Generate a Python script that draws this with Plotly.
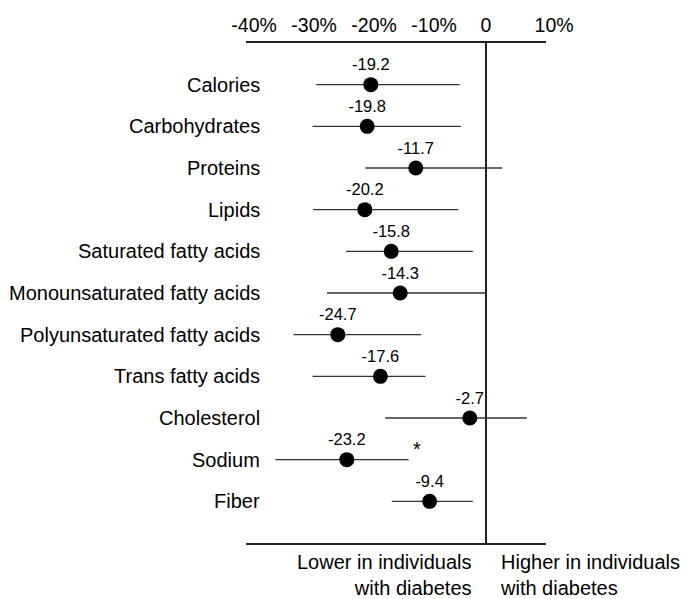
import plotly.graph_objects as go

# ---- data ----
nutrients = ["Calories", "Carbohydrates", "Proteins", "Lipids",
             "Saturated fatty acids", "Monounsaturated fatty acids",
             "Polyunsaturated fatty acids", "Trans fatty acids",
             "Cholesterol", "Sodium", "Fiber"]
estimate = [-19.2, -19.8, -11.7, -20.2, -15.8, -14.3, -24.7, -17.6, -2.7, -23.2, -9.4]
ci_low = [-28.3, -28.9, -20.1, -28.8, -23.3, -26.5, -32.1, -28.9, -16.8, -35.1, -15.7]
ci_high = [-4.4, -4.2, 2.7, -4.6, -2.2, 0.0, -10.8, -10.1, 6.8, -12.9, -2.2]
significant = ["Sodium"]
tick_vals = [-40, -30, -20, -10, 0, 10]
tick_labels = ["-40%", "-30%", "-20%", "-10%", "0", "10%"]
bottom_left_label = "Lower in individuals<br>with diabetes"
bottom_right_label = "Higher in individuals<br>with diabetes"

FONT = "Liberation Sans, Arial, Helvetica, sans-serif"
nb = "\u00a0"

err_plus = [h - e for h, e in zip(ci_high, estimate)]
err_minus = [e - l for e, l in zip(estimate, ci_low)]

fig = go.Figure()
fig.add_trace(go.Scatter(
    x=estimate, y=nutrients,
    mode="markers+text",
    marker=dict(size=15, color="black"),
    text=[f"{v:.1f}" for v in estimate],
    textposition="top center",
    textfont=dict(family=FONT, size=16.5, color="black"),
    error_x=dict(type="data", symmetric=False, array=err_plus, arrayminus=err_minus,
                 width=0, thickness=1.3, color="#333"),
    cliponaxis=False,
    showlegend=False,
))

annotations = []
for name in nutrients:
    annotations.append(dict(
        x=0.053, xref="paper", y=name, yref="y", text=name, showarrow=False,
        xanchor="right", yanchor="middle",
        font=dict(family=FONT, size=20, color="black")))

for name in significant:
    i = nutrients.index(name)
    annotations.append(dict(
        x=ci_high[i], xref="x", y=name, yref="y", text="*", showarrow=False,
        xanchor="left", yanchor="middle", xshift=2, yshift=11,
        font=dict(family=FONT, size=20, color="black")))

annotations.append(dict(
    x=0, xref="x", y=-0.012, yref="paper", text=bottom_left_label, showarrow=False,
    xanchor="right", yanchor="top", align="right", xshift=-12,
    font=dict(family=FONT, size=20, color="black")))
annotations.append(dict(
    x=0, xref="x", y=-0.012, yref="paper", text=bottom_right_label, showarrow=False,
    xanchor="left", yanchor="top", align="left", xshift=12,
    font=dict(family=FONT, size=20, color="black")))

fig.update_layout(
    width=692, height=599,
    margin=dict(l=246, r=146, t=43, b=56, autoexpand=False),
    paper_bgcolor="white", plot_bgcolor="white",
    font=dict(family=FONT, color="black"),
    annotations=annotations,
    xaxis=dict(
        range=[-40, 10], side="top",
        tickvals=tick_vals,
        ticktext=[(nb * 3 + t) if t.endswith("%") else t for t in tick_labels],
        tickfont=dict(family=FONT, size=19.5, color="black"),
        tickangle=0, automargin=False,
        ticks="", ticklabelstandoff=1,
        showline=True, mirror=True, linecolor="#222", linewidth=2,
        showgrid=False,
        zeroline=True, zerolinecolor="#222", zerolinewidth=2,
        fixedrange=True,
    ),
    yaxis=dict(
        type="category", categoryorder="array", categoryarray=nutrients,
        range=[11, -1], showticklabels=False, showgrid=False,
        zeroline=False, showline=False, ticks="", fixedrange=True,
        automargin=False,
    ),
)

fig.write_html("out.html")
